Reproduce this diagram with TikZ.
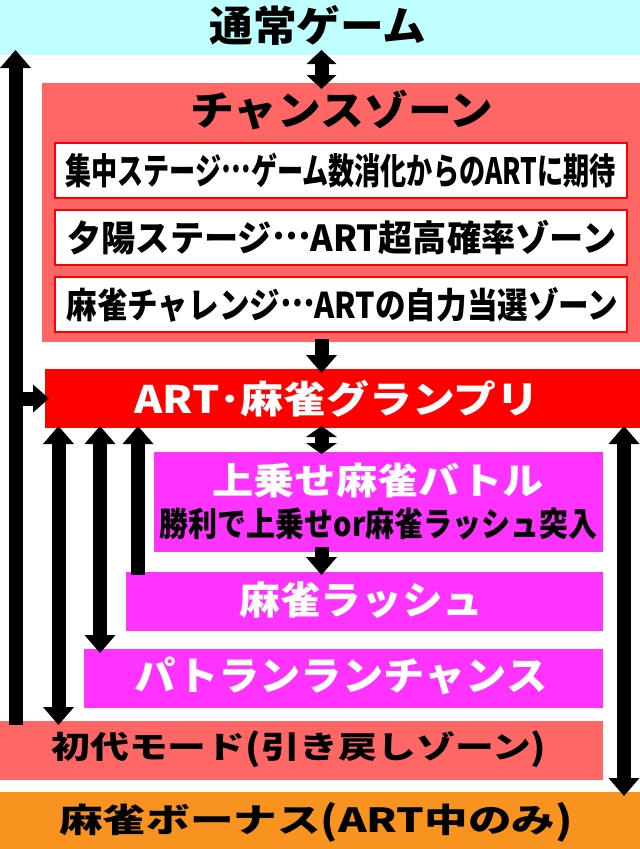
\documentclass[tikz,border=0pt]{standalone}
\usepackage{fontspec}
\usepackage{graphicx}
\setmainfont{Noto Sans CJK JP}[BoldFont={Noto Sans CJK JP Black}]
\usetikzlibrary{arrows.meta}
\definecolor{cyanC}{HTML}{C0FFFF}
\definecolor{salmonC}{HTML}{FF6666}
\definecolor{redC}{HTML}{FF0000}
\definecolor{magC}{HTML}{FF33FF}
\definecolor{orangeC}{HTML}{F7931E}
\newcommand\fitt[3]{\resizebox*{#1pt}{#2pt}{#3}}
\newcommand\mdots{\raisebox{.33em}{…}}
\newcommand\lpar{\raisebox{-.06em}{\scalebox{1}[1.15]{(}}}
\newcommand\rpar{\raisebox{-.06em}{\scalebox{1}[1.15]{)}}}
\tikzset{
  tipL/.tip={Triangle[width=31pt,length=18pt,line width=0pt]},
  tipS/.tip={Triangle[width=30pt,length=14pt,line width=0pt]},
  tipXS/.tip={Triangle[width=31pt,length=11pt,line width=0pt]},
  tipB/.tip={Triangle[width=28pt,length=16pt,line width=0pt]},
  flow/.style={line width=14pt,draw=black},
  one/.style={flow,-tipL},
  two/.style={flow,tipL-tipL},
  twos/.style={flow,tipS-tipS},
  twoxs/.style={flow,tipXS-tipXS},
  branch/.style={flow,-tipB},
  box/.style={inner sep=0pt,outer sep=0pt,draw=none},
  sub/.style={box,fill=white,draw=redC,line width=1.5pt,minimum width=572pt,minimum height=55pt},
  txt/.style={inner sep=0pt,outer sep=0pt,font=\bfseries},
}
\begin{document}
\begin{tikzpicture}[x=1pt,y=-1pt]
\useasboundingbox (0,0) rectangle (640,849);
% boxes
\node[box,fill=cyanC,minimum width=640pt,minimum height=55pt] (top) at (320,27.5) {};
\node[box,fill=salmonC,minimum width=598pt,minimum height=259pt] (cz) at (341,212.5) {};
\node[sub] (s1) at (341,170.5) {};
\node[sub] (s2) at (341,237.5) {};
\node[sub] (s3) at (341,304.5) {};
\node[box,fill=redC,minimum width=595pt,minimum height=59pt] (art) at (342.5,398.5) {};
\node[box,fill=magC,minimum width=449pt,minimum height=100pt] (bat) at (378.5,502) {};
\node[box,fill=magC,minimum width=477pt,minimum height=59pt] (rush) at (364.5,601.5) {};
\node[box,fill=magC,minimum width=519pt,minimum height=59pt] (pat) at (343.5,678.5) {};
\node[box,fill=salmonC,minimum width=603pt,minimum height=59pt] (sho) at (301.5,750.5) {};
\node[box,fill=orangeC,minimum width=640pt,minimum height=57pt] (bon) at (320,820.5) {};
% texts
\node[txt] (tTop) at (318,25) {\fitt{217}{40}{通常ゲーム}};
\node[txt] (tCz) at (342,110) {\fitt{303}{40}{チャンスゾーン}};
\node[txt] (t1) at (340.5,170.5) {\fitt{550}{35}{集中ステージ\mdots ゲーム数消化からのARTに期待}};
\node[txt] (t2) at (342,237.5) {\fitt{549}{35}{夕陽ステージ\mdots ART超高確率ゾーン}};
\node[txt] (t3) at (342.5,304.5) {\fitt{552}{35}{麻雀チャレンジ\mdots ARTの自力当選ゾーン}};
\node[txt,text=white] (tArt) at (337,398.5) {\fitt{405}{37}{ART･麻雀グランプリ}};
\node[txt,text=white] (tB1) at (378,480.5) {\fitt{331}{35}{上乗せ麻雀バトル}};
\node[txt] (tB2) at (378.5,524) {\fitt{438}{32}{勝利で上乗せor麻雀ラッシュ突入}};
\node[txt,text=white] (tRush) at (361.5,600.5) {\fitt{244}{37}{麻雀ラッシュ}};
\node[txt,text=white] (tPat) at (341,676) {\fitt{413}{38}{パトランランチャンス}};
\node[txt] (tSho) at (299,749.5) {\fitt{495}{37}{初代モード\lpar 引き戻しゾーン\rpar}};
\node[txt] (tBon) at (316,822) {\fitt{513}{40}{麻雀ボーナス\lpar ART中のみ\rpar}};
% arrow columns
\coordinate (cL) at (15.5,0);
\coordinate (cA) at (58.5,0);
\coordinate (cB) at (100,0);
\coordinate (cC) at (138,0);
\coordinate (cM) at (321.5,0);
\coordinate (cF) at (624,0);
% connectors
\draw[twos] ([yshift=5pt]top.south -| cM) -- ([yshift=-6pt]cz.north -| cM);
\draw[one] ([yshift=3pt]cz.south -| cM) -- ([yshift=-4pt]art.north -| cM);
\draw[one] ([yshift=-4pt]sho.north -| cL) -- ([yshift=5pt]top.south -| cL);
\draw[branch] (art.west -| cL) -- ([xshift=4pt]art.west);
\draw[two] ([yshift=2pt]art.south -| cA) -- ([yshift=-4pt]sho.north -| cA);
\draw[two] ([yshift=2pt]art.south -| cB) -- ([yshift=-4pt]pat.north -| cB);
\draw[one] ([yshift=-3pt]rush.north -| cC) -- ([yshift=2pt]art.south -| cC);
\draw[twoxs] ([yshift=2pt]art.south -| cM) -- ([yshift=-2pt]bat.north -| cM);
\draw[one] ([yshift=5pt]bat.south -| cM) -- ([yshift=-3pt]rush.north -| cM);
\draw[two] ([yshift=2pt]art.south -| cF) -- ([yshift=-4pt]bon.north -| cF);
\end{tikzpicture}
\end{document}
